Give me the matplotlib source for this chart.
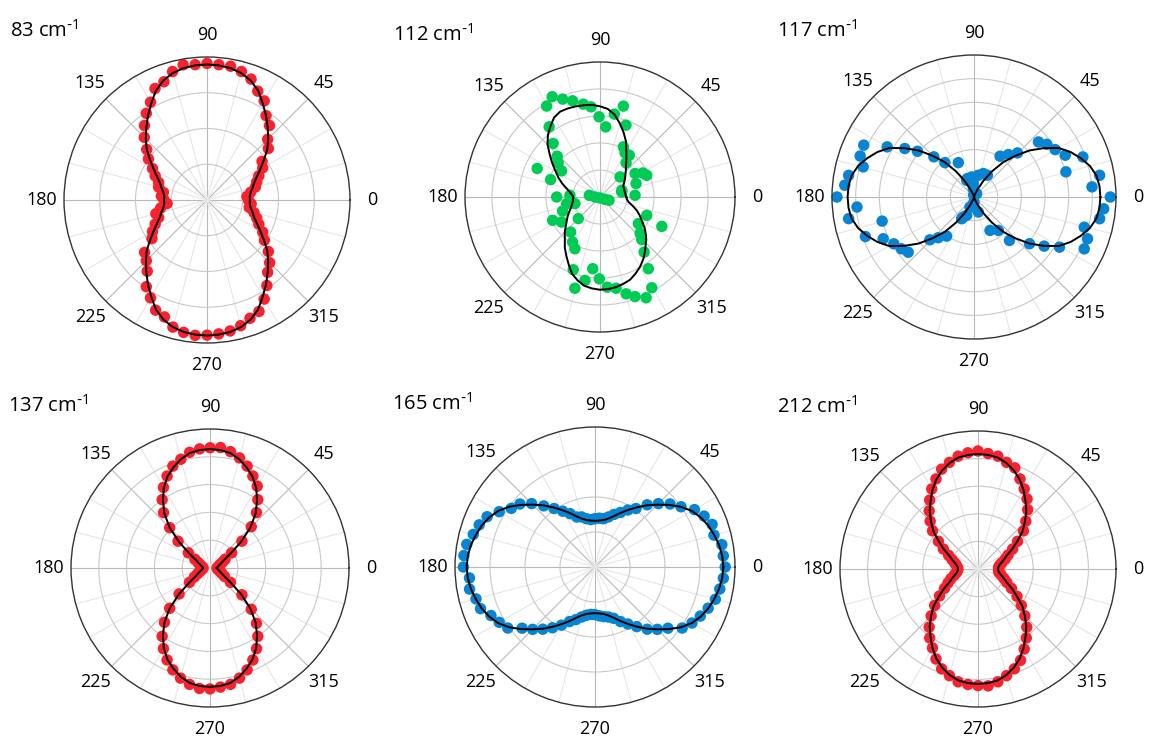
import numpy as np
import matplotlib
matplotlib.use('Agg')
import matplotlib.pyplot as plt

plt.rcParams['font.family'] = ['Open Sans', 'DejaVu Sans']
plt.rcParams['mathtext.default'] = 'regular'

W, H = 1153, 740

# angle grid (degrees) used for the regular measurements and fitted curves
angles = np.arange(0, 360, 5)

titles = ['83', '112', '117', '137', '165', '212']
theta_tick_labels = ['0', '45', '90', '135', '180', '225', '270', '315']

red = '#f8222f'
green = '#00cc55'
blue = '#0884d2'

# ---------- 83 cm-1 ----------
p1_fit = [.30, .30, .31, .33, .35, .385, .43, .485, .55, .605, .66, .72, .78, .845, .89, .92, .937, .945, .948,
          .945, .937, .92, .89, .845, .78, .72, .66, .605, .55, .485, .43, .385, .35, .33, .31, .30,
          .30,
          .30, .31, .33, .35, .385, .43, .485, .55, .605, .66, .72, .78, .845, .89, .92, .937, .945,
          .948,
          .945, .937, .92, .89, .845, .78, .72, .66, .605, .55, .485, .43, .385, .35, .33, .31, .30]
p1_data = [.29, .28, .31, .35, .37, .40, .45, .47, .56, .60, .68, .72, .80, .84, .90, .93, .95, .95, .955,
           .95, .96, .93, .88, .86, .79, .74, .68, .62, .55, .50, .44, .40, .36, .35, .31, .32,
           .30,
           .28, .33, .37, .36, .40, .44, .47, .57, .60, .65, .74, .79, .85, .87, .92, .94, .95,
           .945,
           .94, .93, .91, .88, .86, .80, .73, .66, .62, .56, .49, .45, .40, .37, .34, .30, .31]

# ---------- 112 cm-1 ----------
p2_fit = [.195, .19, .188, .187, .188, .19, .205, .225, .245, .27, .30, .34, .39, .455, .51, .565, .62, .655,
          .672, .685, .69, .695, .698, .698, .68, .64, .60, .55, .485, .43, .38, .34, .30, .26, .23, .21,
          .198, .20, .205, .215, .228, .25, .275, .30, .33, .37, .405, .455, .50, .55, .605, .64, .668, .68,
          .687, .685, .678, .666, .652, .625, .595, .56, .52, .48, .445, .405, .36, .325, .29, .25, .215, .20]
p2_theta = [115.5, 110.9, 105.9, 120.4, 100.2, 95.7, 90.7, 85.3, 80.2, 75.6, 70.1, 125.9, 131.2, 65, 60.4,
            54.9, 52.6, 136.4, 140.8, 145.8, 155.6, 160.6, 45, 33.8, 29.3, 24.9, 20.4, 17.2,
            171, 180, 270, 335, 340,
            176.8, 180, 191.2, 194.8, 200.6, 13, 2.8, 206.2, 213.1, 224.9, 230.1, 238.8, 244.1,
            338.6, 334.6, 325.2, 318, 314.4, 308.7, 249.8, 264.2, 269.5, 259.8, 254.6, 274.6, 280,
            285.1, 289.4, 294.6, 304, 299.7]
p2_r = [.823, .776, .741, .781, .699, .671, .594, .521, .623, .695, .566, .642, .527, .41, .376,
        .378, .318, .438, .40, .344, .511, .388, .21, .313, .364, .382, .285, .169,
        .08, .037, .007, .041, .071,
        .223, .321, .252, .192, .296, .165, .26, .391, .34, .227, .339, .391, .426,
        .372, .507, .346, .40, .442, .523, .574, .534, .606, .628, .701, .67, .686,
        .743, .782, .821, .641, .774]

# ---------- 117 cm-1 ----------
p3_fit = [.89, .887, .875, .845, .80, .75, .69, .60, .51, .41, .32, .22, .13, .06, .02, 0, 0, 0, 0,
          0, 0, 0, .02, .06, .13, .22, .32, .41, .51, .60, .69, .75, .80, .845, .875, .887,
          .89,
          .887, .875, .845, .80, .75, .69, .60, .51, .41, .32, .22, .13, .06, .02, 0, 0, 0,
          0,
          0, 0, 0, .02, .06, .13, .22, .32, .41, .51, .60, .69, .75, .80, .845, .875, .887]
p3_theta = [154.8, 160.2, 164.8, 170.2, 174.8, 180, 184.9, 189.8, 200, 194.7, 204.7, 210.3, 215.5, 220,
            150, 145, 141, 135, 130.2, 114.5, 224.1, 228.7, 235, 240.4,
            57.4, 51, 45.4, 40.5, 35.9, 30.3, 24.6, 20.2, 15.3, 9.8, 4.9, 0, 354.8, 350.2, 344.7,
            339.8, 334.8, 329.6, 325, 319.9, 309.2, 306.1, 295.6,
            110, 96.6, 78.8, 68.3, 58.5, 93, 95, 100, 270, 270, 286, 248.3, 113.6, 241.8, 248, 52]
p3_r = [.858, .852, .809, .896, .914, .965, .827, .896, .814, .669, .704, .654, .628, .605,
        .706, .595, .512, .40, .317, .266, .433, .382, .336, .176,
        .341, .385, .436, .597, .633, .662, .707, .817, .671, .898, .834, .96, .917, .898, .805,
        .852, .858, .698, .603, .511, .395, .291, .261,
        .138, .142, .156, .178, .18, .095, .06, .015, .035, .07, .11, .139, .128, .16, .076, .03]

# ---------- 137 cm-1 ----------
p4_fit = [.048, .052, .058, .066, .077, .095, .12, .18, .29, .41, .51, .59, .665, .725, .77, .81, .84, .852, .855,
          .852, .84, .81, .77, .725, .665, .59, .51, .41, .29, .18, .12, .095, .077, .066, .058, .052,
          .048,
          .052, .058, .066, .077, .095, .12, .18, .29, .41, .51, .59, .665, .725, .77, .81, .84, .852,
          .855,
          .852, .84, .81, .77, .725, .665, .59, .51, .41, .29, .18, .12, .095, .077, .066, .058, .052]
p4_data = [.05, .06, .065, .07, .08, .10, .125, .19, .30, .42, .52, .60, .68, .73, .78, .82, .85, .87, .865,
           .86, .845, .81, .78, .73, .67, .60, .52, .41, .30, .19, .125, .095, .08, .07, .06, .055,
           .05,
           .055, .06, .07, .08, .10, .13, .18, .29, .41, .51, .60, .67, .73, .78, .82, .85, .87,
           .87,
           .86, .85, .82, .78, .73, .67, .60, .52, .42, .30, .18, .12, .095, .08, .07, .06, .055]

# ---------- 165 cm-1 ----------
p5_fit = [.917, .912, .90, .882, .862, .835, .80, .75, .69, .63, .575, .52, .47, .425, .385, .357, .34, .333, .33,
          .333, .34, .357, .385, .425, .47, .52, .575, .63, .69, .75, .80, .835, .862, .882, .90, .912,
          .917,
          .912, .90, .882, .862, .835, .80, .75, .69, .63, .575, .52, .47, .425, .385, .357, .34, .333,
          .33,
          .333, .34, .357, .385, .425, .47, .52, .575, .63, .69, .75, .80, .835, .862, .882, .90, .912]
p5_data = [.93, .92, .92, .88, .89, .86, .82, .75, .70, .64, .58, .51, .47, .43, .40, .37, .35, .35, .345,
           .34, .35, .37, .38, .42, .46, .51, .57, .64, .70, .73, .79, .85, .88, .90, .93, .94,
           .94,
           .90, .91, .88, .87, .82, .79, .76, .68, .63, .58, .53, .48, .43, .40, .37, .35, .34,
           .34,
           .35, .36, .37, .39, .43, .47, .52, .58, .63, .68, .76, .80, .83, .86, .89, .905, .92]

# ---------- 212 cm-1 ----------
p6_fit = [.145, .148, .157, .175, .20, .23, .285, .345, .42, .48, .545, .60, .66, .715, .76, .795, .82, .83, .833,
          .83, .82, .795, .76, .715, .66, .60, .545, .48, .42, .345, .285, .23, .20, .175, .157, .148,
          .145,
          .148, .157, .175, .20, .23, .285, .345, .42, .48, .545, .60, .66, .715, .76, .795, .82, .83,
          .833,
          .83, .82, .795, .76, .715, .66, .60, .545, .48, .42, .345, .285, .23, .20, .175, .157, .148]
p6_data = [.15, .15, .16, .18, .21, .24, .29, .35, .43, .49, .56, .62, .67, .72, .78, .80, .83, .84, .855,
           .845, .83, .80, .77, .72, .67, .61, .55, .49, .43, .35, .29, .235, .20, .175, .16, .15,
           .145,
           .15, .16, .18, .21, .24, .28, .34, .41, .48, .55, .61, .66, .72, .77, .80, .83, .84,
           .845,
           .85, .83, .80, .77, .73, .67, .61, .55, .48, .41, .345, .28, .23, .20, .175, .155, .15]

panels = [
    dict(title=titles[0], fit=p1_fit, th=angles, r=p1_data, color=red, rings=4,
         c=(207, 200), R=143, tpos=(10, 37)),
    dict(title=titles[1], fit=p2_fit, th=p2_theta, r=p2_r, color=green, rings=5,
         c=(600, 197), R=135, tpos=(393, 41)),
    dict(title=titles[2], fit=p3_fit, th=p3_theta, r=p3_r, color=blue, rings=6,
         c=(974, 197), R=142, tpos=(777, 37)),
    dict(title=titles[3], fit=p4_fit, th=angles, r=p4_data, color=red, rings=5,
         c=(210, 568), R=139, tpos=(8, 412)),
    dict(title=titles[4], fit=p5_fit, th=angles, r=p5_data, color=blue, rings=4,
         c=(595, 567), R=140, tpos=(392, 410)),
    dict(title=titles[5], fit=p6_fit, th=angles, r=p6_data, color=red, rings=5,
         c=(978, 569), R=138, tpos=(777, 413)),
]

fig = plt.figure(figsize=(W / 100, H / 100), dpi=100)

for p in panels:
    cx, cy = p['c']
    R = p['R']
    ax = fig.add_axes([(cx - R) / W, 1 - (cy + R) / H, 2 * R / W, 2 * R / H],
                      projection='polar')
    ax.set_axisbelow(True)
    ax.set_ylim(0, 1)
    n = p['rings']
    ax.set_yticks(np.linspace(0, 1, n + 1)[1:-1])
    ax.set_yticklabels([])
    ax.set_xticks(np.deg2rad(np.arange(0, 360, 45)))
    ax.set_xticklabels(theta_tick_labels)
    ax.set_xticks(np.deg2rad(np.arange(0, 360, 15)), minor=True)
    ax.xaxis.grid(True, which='major', color='#b8b8b8', lw=0.8)
    ax.xaxis.grid(True, which='minor', color='#e6e6e6', lw=0.8)
    ax.yaxis.grid(True, color='#c8c8c8', lw=0.8)
    ax.tick_params(axis='x', which='both', direction='in', length=4, width=0.8,
                   color='#333333', labelcolor='black', labelsize=13, pad=9)
    ax.tick_params(axis='y', length=0)
    ax.spines['polar'].set_color('#333333')
    ax.spines['polar'].set_linewidth(1.0)

    ax.scatter(np.deg2rad(p['th']), p['r'], s=68, color=p['color'],
               edgecolors='none', zorder=2, clip_on=False)
    fit_th = np.deg2rad(np.append(angles, angles[0]))
    fit_r = np.append(p['fit'], p['fit'][0])
    ax.plot(fit_th, fit_r, color='black', lw=1.4, zorder=3)

    tx, ty = p['tpos']
    fig.text(tx / W, 1 - ty / H, p['title'] + r' cm$^{\text{-}1}$', fontsize=14.5,
             ha='left', va='baseline')

fig.savefig('out.png', dpi=100)
